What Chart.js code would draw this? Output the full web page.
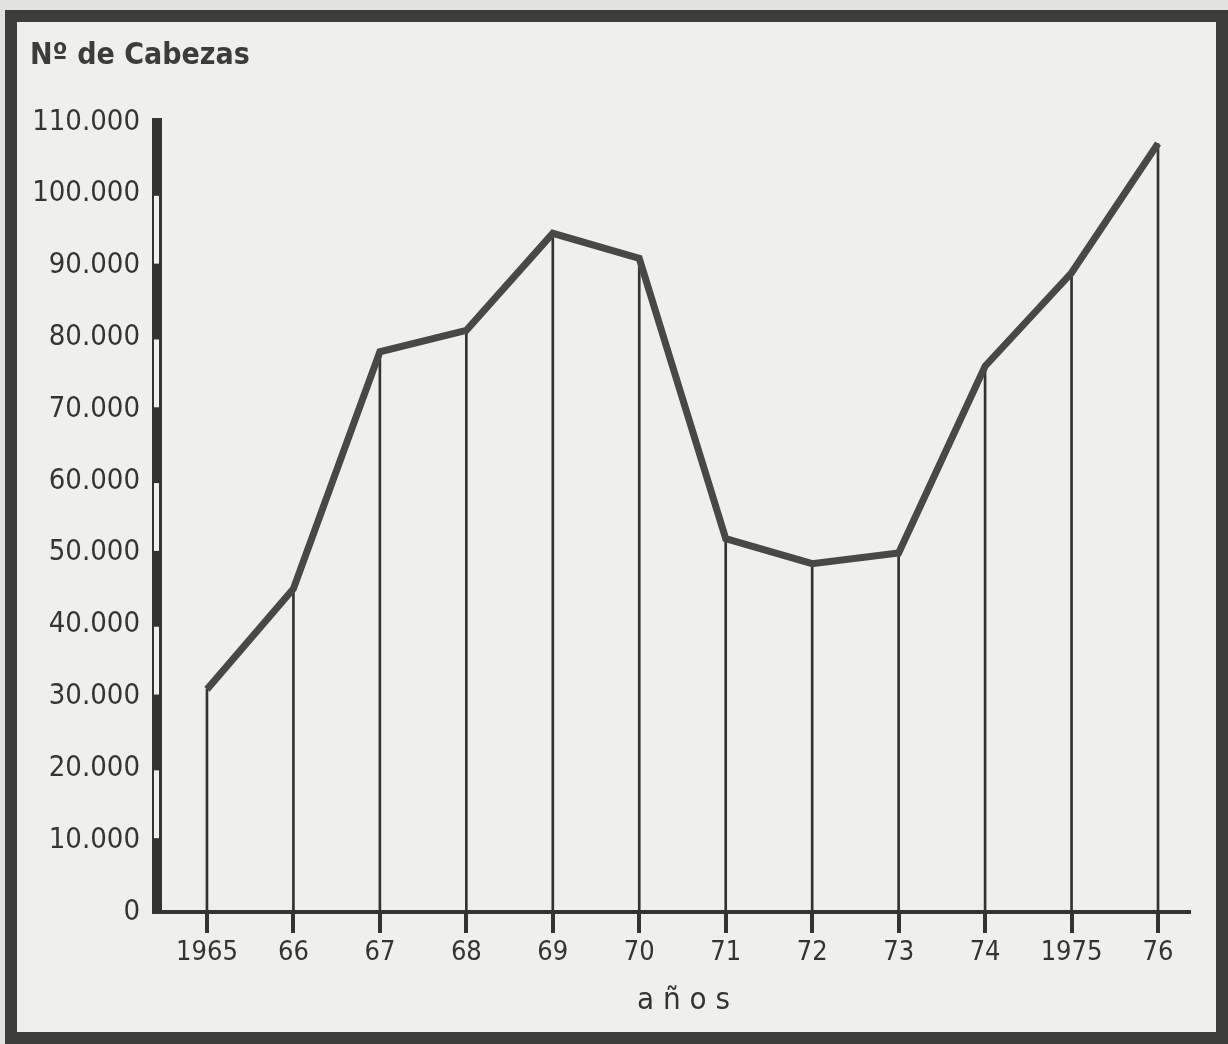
<!DOCTYPE html>
<html>
<head>
<meta charset="utf-8">
<script src="https://cdn.jsdelivr.net/npm/chart.js@4.4.1/dist/chart.umd.min.js"></script>
<style>
  html, body { margin: 0; padding: 0; background: #e2e2de; }
  #wrap { position: relative; width: 1228px; height: 1044px; background: #e2e2de; overflow: hidden; }
  #panel { position: absolute; left: 5px; top: 10px; width: 1223px; height: 1034px;
           box-sizing: border-box; border: 12px solid #3d3d3b; background: #efefec; }
  canvas { position: absolute; left: 0; top: 0; z-index: 1; }
  .lbl { position: absolute; z-index: 2; font-family: 'DejaVu Sans Condensed', 'DejaVu Sans', sans-serif;
         color: #343432; line-height: 1; white-space: nowrap; }
  #ytitle { left: 30px; top: 39px; font-size: 30px; font-weight: bold; color: #3c3c3a; }
  #xtitle { left: 637px; top: 983px; font-size: 31px; }
</style>
</head>
<body>
<div id="wrap">
  <div id="panel"></div>
  <canvas id="chart" width="1228" height="1044"></canvas>
  <div class="lbl" id="ytitle">Nº de Cabezas</div>
  <div class="lbl" id="xtitle">a ñ o s</div>
</div>

<script>
// años y número de cabezas
const years = [1965, 1966, 1967, 1968, 1969, 1970, 1971, 1972, 1973, 1974, 1975, 1976];
const yearLabels = ['1965', '66', '67', '68', '69', '70', '71', '72', '73', '74', '1975', '76'];
const cabezas = [31000, 45000, 78000, 81000, 94500, 91000, 52000, 48500, 50000, 76000, 89000, 107000];
const yTicks = [0, 10000, 20000, 30000, 40000, 50000, 60000, 70000, 80000, 90000, 100000, 110000];

const ink = '#333331';
const paper = '#efefec';
const fontFamily = "'DejaVu Sans Condensed', 'DejaVu Sans', sans-serif";

const points = years.map((y, i) => ({ x: y, y: cabezas[i] }));

// 110.000 style labels
function miles(v) {
  if (v === 0) return '0';
  return (v / 1000) + '.000';
}

// y axis drawn as a thick bar, alternately filled and hollow every 10.000,
// plus the short marks under the x axis at every year
const axisMarks = {
  id: 'axisMarks',
  afterDraw(chart) {
    const ctx = chart.ctx;
    const ys = chart.scales.y;
    const xs = chart.scales.x;
    const left = chart.chartArea.left;
    const top = ys.getPixelForValue(yTicks[yTicks.length - 1]);
    const bottom = ys.getPixelForValue(0);
    ctx.save();
    ctx.fillStyle = ink;
    ctx.fillRect(left - 10, top - 4, 10, bottom - top + 6);
    ctx.fillStyle = paper;
    for (let i = 1; i < yTicks.length - 1; i += 2) {
      const y0 = ys.getPixelForValue(yTicks[i + 1]);
      const y1 = ys.getPixelForValue(yTicks[i]);
      ctx.fillRect(left - 8, y0 + 2, 5, y1 - y0 - 4);
    }

    // year marks below the axis
    ctx.fillStyle = ink;
    for (let i = 0; i < years.length; i++) {
      const px = Math.round(xs.getPixelForValue(years[i]));
      ctx.fillRect(px - 2, bottom - 2, 4, 23);
    }
    ctx.restore();
  }
};

new Chart(document.getElementById('chart'), {
  type: 'line',
  data: {
    datasets: [
      {
        type: 'line',
        data: points,
        borderColor: '#484846',
        borderWidth: 7,
        borderJoinStyle: 'miter',
        pointRadius: 0,
        tension: 0,
        order: 0
      },
      {
        // thin drop lines from each value down to the axis
        type: 'bar',
        data: points,
        backgroundColor: ink,
        barThickness: 2,
        borderWidth: 0,
        order: 1
      }
    ]
  },
  options: {
    responsive: false,
    animation: false,
    layout: { padding: { left: 0, right: 38, top: 122, bottom: 0 } },
    plugins: {
      legend: { display: false },
      tooltip: { enabled: false }
    },
    scales: {
      x: {
        type: 'linear',
        min: 1964.48,
        max: 1976.37,
        offset: false,
        afterFit: s => { s.height = 132; },
        afterBuildTicks: s => { s.ticks = years.map(v => ({ value: v })); },
        grid: { offset: false, drawOnChartArea: false, drawTicks: true, tickLength: 18,
                color: ink, tickColor: ink, lineWidth: 2, tickWidth: 2 },
        border: { display: true, color: ink, width: 4 },
        ticks: {
          autoSkip: false,
          maxRotation: 0,
          padding: 7,
          color: '#343432',
          font: { family: fontFamily, size: 27 },
          callback: (v, i) => yearLabels[i]
        }
      },
      y: {
        min: 0,
        max: 110000,
        afterFit: s => { s.width = 162; },
        afterBuildTicks: s => { s.ticks = yTicks.map(v => ({ value: v })); },
        grid: { display: false, drawTicks: false },
        border: { display: false },
        ticks: {
          padding: 22,
          color: '#343432',
          font: { family: fontFamily, size: 29 },
          callback: v => miles(v)
        }
      }
    }
  },
  plugins: [axisMarks]
});
</script>
</body>
</html>
